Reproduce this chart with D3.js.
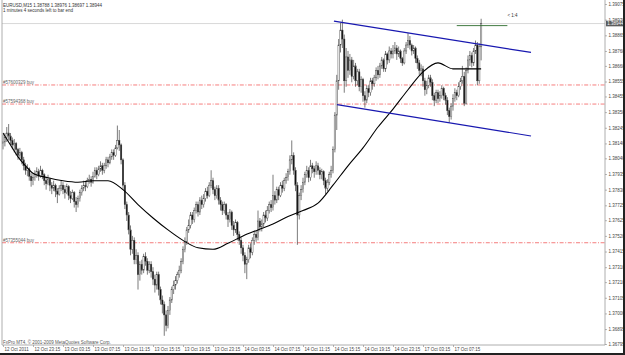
<!DOCTYPE html>
<html>
<head>
<meta charset="utf-8">
<script src="https://cdn.jsdelivr.net/npm/d3@7"></script>
<style>
html, body { margin: 0; padding: 0; background: #fff; }
svg { display: block; font-family: "Liberation Sans", Arial, sans-serif; }
</style>
</head>
<body>
<div id="chart"></div>
<script>
// EURUSD M15 - 12 Oct 19:15 .. 17 Oct 11:00 (256 bars), open = close of previous bar
const symbolTitle = "EURUSD,M15";
const timerText = "1 minutes 4 seconds left to bar end";
const copyrightText = "FxPro MT4, \u00a9 2001-2009 MetaQuotes Software Corp.";
const firstOpen = 1.3814;

const closes = [
  1.3815,1.3818,1.3821,1.3819,1.3816,1.3813,1.3814,1.3810,1.3806,1.3808,1.3803,1.3799,1.3796,1.3797,1.3792,1.3789,
  1.3791,1.3793,1.3795,1.3792,1.3796,1.3793,1.3789,1.3787,1.3790,1.3786,1.3784,1.3786,1.3782,1.3780,1.3784,1.3786,
  1.3783,1.3781,1.3785,1.3779,1.3777,1.3781,1.3775,1.3773,1.3777,1.3781,1.3784,1.3786,1.3785,1.3789,1.3790,1.3788,
  1.3792,1.3796,1.3793,1.3797,1.3799,1.3796,1.3799,1.3803,1.3801,1.3805,1.3808,1.3806,1.3811,1.3816,1.3813,1.3803,
  1.3786,1.3773,1.3766,1.3756,1.3743,1.3749,1.3736,1.3739,1.3726,1.3733,1.3729,1.3738,1.3735,1.3729,1.3733,1.3728,
  1.3723,1.3719,1.3726,1.3716,1.3709,1.3706,1.3699,1.3692,1.3702,1.3709,1.3716,1.3719,1.3722,1.3726,1.3729,1.3735,
  1.3743,1.3748,1.3756,1.3759,1.3766,1.3763,1.3769,1.3773,1.3768,1.3776,1.3773,1.3777,1.3782,1.3779,1.3786,1.3789,
  1.3783,1.3779,1.3784,1.3776,1.3773,1.3769,1.3773,1.3766,1.3763,1.3768,1.3759,1.3756,1.3761,1.3753,1.3749,1.3744,
  1.3739,1.3733,1.3736,1.3744,1.3741,1.3749,1.3753,1.3751,1.3762,1.3758,1.3760,1.3766,1.3764,1.3769,1.3773,1.3771,
  1.3779,1.3776,1.3783,1.3779,1.3786,1.3784,1.3789,1.3791,1.3795,1.3803,1.3806,1.3796,1.3786,1.3766,1.3779,1.3783,
  1.3788,1.3793,1.3796,1.3791,1.3799,1.3797,1.3795,1.3799,1.3796,1.3793,1.3795,1.3789,1.3784,1.3788,1.3793,1.3796,
  1.3810,1.3833,1.3856,1.3880,1.3890,1.3884,1.3856,1.3872,1.3863,1.3870,1.3859,1.3866,1.3856,1.3862,1.3852,1.3857,
  1.3846,1.3843,1.3851,1.3848,1.3856,1.3854,1.3858,1.3863,1.3860,1.3866,1.3870,1.3864,1.3874,1.3870,1.3876,1.3874,
  1.3876,1.3878,1.3874,1.3876,1.3871,1.3868,1.3876,1.3880,1.3883,1.3880,1.3876,1.3878,1.3871,1.3868,1.3863,1.3864,
  1.3856,1.3850,1.3853,1.3858,1.3855,1.3846,1.3843,1.3848,1.3844,1.3846,1.3851,1.3846,1.3843,1.3836,1.3832,1.3839,
  1.3844,1.3848,1.3846,1.3852,1.3856,1.3859,1.3841,1.3863,1.3870,1.3873,1.3868,1.3876,1.3880,1.3856,1.38788,1.38944
];
const highs = [
  1.3820,1.3821,1.3825,1.3827,1.3821,1.3818,1.3817,1.3815,1.3811,1.3811,1.3809,1.3805,1.3801,1.3800,1.3798,1.3794,
  1.3794,1.3796,1.3798,1.3797,1.3799,1.3797,1.3794,1.3791,1.3793,1.3791,1.3788,1.3789,1.3787,1.3784,1.3786,1.3789,
  1.3788,1.3786,1.3787,1.3786,1.3782,1.3783,1.3782,1.3778,1.3779,1.3783,1.3786,1.3789,1.3789,1.3791,1.3793,1.3792,
  1.3795,1.3798,1.3798,1.3799,1.3802,1.3801,1.3801,1.3805,1.3805,1.3807,1.3810,1.3810,1.3813,1.3826,1.3823,1.3814,
  1.3804,1.3788,1.3775,1.3768,1.3759,1.3752,1.3751,1.3743,1.3741,1.3735,1.3736,1.3740,1.3741,1.3737,1.3735,1.3735,
  1.3731,1.3726,1.3728,1.3728,1.3718,1.3712,1.3708,1.3702,1.3705,1.3711,1.3718,1.3722,1.3725,1.3728,1.3732,1.3737,
  1.3745,1.3751,1.3758,1.3763,1.3768,1.3768,1.3771,1.3775,1.3775,1.3778,1.3779,1.3780,1.3784,1.3785,1.3788,1.3796,
  1.3791,1.3785,1.3786,1.3786,1.3778,1.3775,1.3775,1.3774,1.3768,1.3770,1.3769,1.3762,1.3763,1.3762,1.3755,1.3751,
  1.3746,1.3741,1.3738,1.3746,1.3747,1.3751,1.3755,1.3756,1.3769,1.3764,1.3763,1.3768,1.3769,1.3772,1.3775,1.3776,
  1.3793,1.3782,1.3785,1.3785,1.3788,1.3789,1.3791,1.3794,1.3797,1.3806,1.3816,1.3808,1.3798,1.3788,1.3781,1.3786,
  1.3791,1.3795,1.3799,1.3798,1.3803,1.3801,1.3799,1.3802,1.3801,1.3798,1.3797,1.3796,1.3791,1.3790,1.3795,1.3799,
  1.3812,1.3835,1.3860,1.3884,1.3895,1.3897,1.3887,1.3878,1.3876,1.3874,1.3872,1.3870,1.3868,1.3864,1.3864,1.3859,
  1.3858,1.3849,1.3853,1.3853,1.3858,1.3858,1.3860,1.3865,1.3866,1.3868,1.3872,1.3871,1.3876,1.3875,1.3879,1.3878,
  1.3880,1.3882,1.3880,1.3879,1.3877,1.3872,1.3878,1.3882,1.3888,1.3886,1.3881,1.3880,1.3879,1.3873,1.3870,1.3867,
  1.3866,1.3858,1.3856,1.3860,1.3860,1.3857,1.3848,1.3850,1.3850,1.3849,1.3853,1.3852,1.3848,1.3845,1.3838,1.3841,
  1.3847,1.3851,1.3850,1.3855,1.3858,1.3866,1.3862,1.3865,1.3873,1.3876,1.3875,1.3878,1.3883,1.3882,1.3881,1.38976
];
const lows = [
  1.3810,1.3812,1.3815,1.3816,1.3813,1.3810,1.3808,1.3806,1.3803,1.3804,1.3800,1.3796,1.3793,1.3792,1.3789,1.3785,
  1.3786,1.3789,1.3791,1.3789,1.3791,1.3790,1.3786,1.3783,1.3786,1.3782,1.3780,1.3782,1.3778,1.3774,1.3779,1.3782,
  1.3780,1.3777,1.3780,1.3776,1.3774,1.3776,1.3771,1.3768,1.3771,1.3775,1.3779,1.3782,1.3782,1.3784,1.3787,1.3785,
  1.3787,1.3791,1.3790,1.3792,1.3795,1.3793,1.3794,1.3797,1.3798,1.3800,1.3803,1.3803,1.3805,1.3810,1.3809,1.3800,
  1.3783,1.3770,1.3762,1.3753,1.3739,1.3740,1.3733,1.3733,1.3716,1.3722,1.3726,1.3727,1.3732,1.3726,1.3727,1.3724,
  1.3719,1.3714,1.3716,1.3712,1.3706,1.3700,1.3685,1.3688,1.3690,1.3699,1.3707,1.3713,1.3716,1.3720,1.3724,1.3727,
  1.3733,1.3741,1.3746,1.3754,1.3757,1.3760,1.3761,1.3767,1.3765,1.3766,1.3770,1.3771,1.3775,1.3777,1.3778,1.3784,
  1.3780,1.3776,1.3777,1.3773,1.3769,1.3766,1.3767,1.3763,1.3758,1.3761,1.3756,1.3752,1.3754,1.3749,1.3746,1.3740,
  1.3735,1.3727,1.3723,1.3734,1.3737,1.3739,1.3746,1.3748,1.3749,1.3755,1.3755,1.3758,1.3761,1.3762,1.3767,1.3768,
  1.3769,1.3773,1.3774,1.3776,1.3778,1.3781,1.3782,1.3787,1.3789,1.3793,1.3800,1.3793,1.3782,1.3746,1.3763,1.3776,
  1.3781,1.3786,1.3791,1.3788,1.3789,1.3794,1.3791,1.3793,1.3793,1.3790,1.3790,1.3786,1.3780,1.3782,1.3786,1.3791,
  1.3794,1.3808,1.3823,1.3850,1.3875,1.3878,1.3848,1.3852,1.3858,1.3860,1.3855,1.3857,1.3852,1.3853,1.3849,1.3848,
  1.3842,1.3838,1.3841,1.3845,1.3846,1.3850,1.3852,1.3856,1.3857,1.3858,1.3864,1.3862,1.3862,1.3867,1.3868,1.3871,
  1.3871,1.3874,1.3870,1.3872,1.3868,1.3866,1.3867,1.3874,1.3878,1.3877,1.3873,1.3874,1.3868,1.3864,1.3860,1.3859,
  1.3852,1.3846,1.3847,1.3851,1.3852,1.3843,1.3839,1.3841,1.3841,1.3842,1.3844,1.3843,1.3840,1.3833,1.3828,1.3830,
  1.3836,1.3842,1.3843,1.3845,1.3850,1.3854,1.3839,1.3840,1.3861,1.3866,1.3865,1.3866,1.3874,1.3853,1.3854,1.38697
];

// moving average (bar index -> value)
const maBars   = [0,4,8,12,16,24,32,40,48,56,64,72,80,88,96,104,112,120,128,136,144,152,160,168,176,184,192,200,208,216,224,232,240,248,255];
const maValues = [1.3821,1.3813,1.3805,1.3799,1.3794,1.3791,1.3789,1.3788,1.3789,1.3789,1.3783,1.3773,1.3764,1.3756,1.3749,1.3744,
                  1.3743,1.3747,1.3752,1.3756,1.3760,1.3765,1.3769,1.3774,1.3786,1.3799,1.3811,1.3825,1.3837,1.3850,1.3862,1.3868,
                  1.3864,1.3864,1.3864];

// hand-drawn channel (bar index, price)
const channelUpper = [[176.5, 1.3896], [281.6, 1.3875]];
const channelLower = [[178.1, 1.3840], [281.6, 1.3819]];
const rewardLine = [242, 269];
const rewardPrice = 1.3893;
const rewardText = "< 1:4";

// open orders
const orderLabels = ["#57600329 buy", "#57594368 buy", "#57355044 buy"];
const orderPrices = [1.38532, 1.38404, 1.37474];

// axes
const priceTicks = [1.39075,1.38970,1.38865,1.38760,1.38660,1.38555,1.38455,1.38350,1.38245,1.38140,1.38040,1.37935,
                    1.37830,1.37725,1.37625,1.37520,1.37415,1.37310,1.37210,1.37105,1.37000,1.36895,1.36795];
const dateBars = [0,16,32,48,64,80,96,112,128,144,160,176,192,208,224,240];
const dateLabels = ["12 Oct 2011","12 Oct 23:15","13 Oct 03:15","13 Oct 07:15","13 Oct 11:15","13 Oct 15:15",
                    "13 Oct 19:15","13 Oct 23:15","14 Oct 03:15","14 Oct 07:15","14 Oct 11:15","14 Oct 15:15",
                    "14 Oct 19:15","14 Oct 23:15","17 Oct 03:15","17 Oct 07:15"];

const W = 625, H = 355;
const frame = { left: 2, right: 605, top: 0, bottom: 345 };
const fs = 4.5;

const bars = closes.map((c, i) => ({
    i: i,
    open: i === 0 ? firstOpen : closes[i - 1],
    high: highs[i],
    low: lows[i],
    close: c
}));
const last = bars[bars.length - 1];

const svg = d3.select("#chart").append("svg")
    .attr("width", W)
    .attr("height", H);

const x = d3.scaleLinear().domain([0, 320]).range([3, 603]);
const y = d3.scaleLinear().domain([1.36795, 1.39075]).range([344, 4]);

// bid line
svg.append("line")
    .attr("x1", frame.left).attr("x2", frame.right)
    .attr("y1", y(last.close)).attr("y2", y(last.close))
    .attr("stroke", "#cfcfcf").attr("stroke-width", 0.8);

// order levels
orderPrices.forEach((p, k) => {
    svg.append("line")
        .attr("x1", frame.left).attr("x2", frame.right)
        .attr("y1", y(p)).attr("y2", y(p))
        .attr("stroke", "#f25c5c").attr("stroke-width", 0.8)
        .attr("stroke-dasharray", "4,1.6,1,1.6");
    svg.append("text")
        .attr("x", 3).attr("y", y(p) - 1.2)
        .attr("font-size", fs).attr("fill", "#666")
        .text(orderLabels[k]);
});

// candles
const candles = svg.append("g");
candles.selectAll(".wick")
    .data(bars)
    .enter()
    .append("line")
    .attr("class", "wick")
    .attr("x1", d => x(d.i)).attr("x2", d => x(d.i))
    .attr("y1", d => y(Math.max(d.high, d.open, d.close)))
    .attr("y2", d => y(Math.min(d.low, d.open, d.close)))
    .attr("stroke", "#444").attr("stroke-width", 0.7);

candles.selectAll(".body")
    .data(bars)
    .enter()
    .append("rect")
    .attr("class", "body")
    .attr("x", d => x(d.i) - 0.7)
    .attr("width", 1.4)
    .attr("y", d => y(Math.max(d.open, d.close)))
    .attr("height", d => Math.max(0.5, y(Math.min(d.open, d.close)) - y(Math.max(d.open, d.close))))
    .attr("fill", d => d.close < d.open ? "#111" : "#fff")
    .attr("stroke", "#444").attr("stroke-width", 0.45);

// moving average
const maLine = d3.line()
    .x(d => x(d[0]))
    .y(d => y(d[1]))
    .curve(d3.curveMonotoneX);
svg.append("path")
    .datum(maBars.map((b, k) => [b, maValues[k]]))
    .attr("d", maLine)
    .attr("fill", "none")
    .attr("stroke", "#000")
    .attr("stroke-width", 1.1);

// channel
[channelUpper, channelLower].forEach(seg => {
    svg.append("line")
        .attr("x1", x(seg[0][0])).attr("y1", y(seg[0][1]))
        .attr("x2", x(seg[1][0])).attr("y2", y(seg[1][1]))
        .attr("stroke", "#1818b0").attr("stroke-width", 1.2);
});

// reward level
svg.append("line")
    .attr("x1", x(rewardLine[0])).attr("x2", x(rewardLine[1]))
    .attr("y1", y(rewardPrice)).attr("y2", y(rewardPrice))
    .attr("stroke", "#2b6b2b").attr("stroke-width", 0.9);
svg.append("text")
    .attr("x", x(rewardLine[1])).attr("y", y(rewardPrice) - 9)
    .attr("font-size", fs).attr("fill", "#333")
    .text(rewardText);

// header
svg.append("text")
    .attr("x", 3).attr("y", 6.5)
    .attr("font-size", fs).attr("fill", "#333")
    .text(`${symbolTitle}  ${last.open.toFixed(5)} ${last.high.toFixed(5)} ${last.low.toFixed(5)} ${last.close.toFixed(5)}`);
svg.append("text")
    .attr("x", 3).attr("y", 11.5)
    .attr("font-size", fs).attr("fill", "#333")
    .text(timerText);

// footer
svg.append("text")
    .attr("x", 3).attr("y", 343.5)
    .attr("font-size", fs).attr("fill", "#555")
    .text(copyrightText);

// frame
svg.append("line").attr("x1", frame.left).attr("x2", frame.left)
    .attr("y1", frame.top).attr("y2", frame.bottom)
    .attr("stroke", "#9a9a9a").attr("stroke-width", 0.8);
svg.append("line").attr("x1", frame.left).attr("x2", frame.right)
    .attr("y1", frame.bottom).attr("y2", frame.bottom)
    .attr("stroke", "#9a9a9a").attr("stroke-width", 0.8);
svg.append("line").attr("x1", frame.right).attr("x2", frame.right)
    .attr("y1", frame.top).attr("y2", frame.bottom)
    .attr("stroke", "#9a9a9a").attr("stroke-width", 0.8);

// price axis
const yAxis = svg.append("g")
    .attr("transform", `translate(${frame.right},0)`)
    .call(d3.axisRight(y).tickValues(priceTicks).tickSize(2).tickPadding(1.5).tickFormat(d3.format(".5f")));
yAxis.select(".domain").remove();
yAxis.selectAll("line").attr("stroke", "#888").attr("stroke-width", 0.6);
yAxis.selectAll("text").attr("font-size", fs).attr("fill", "#444").attr("font-family", "Liberation Sans, Arial, sans-serif");

// time axis
const xAxis = svg.append("g")
    .attr("transform", `translate(0,${frame.bottom})`)
    .call(d3.axisBottom(x).tickValues(dateBars).tickSize(2).tickFormat((d, k) => dateLabels[k]));
xAxis.select(".domain").remove();
xAxis.selectAll("line").attr("stroke", "#888").attr("stroke-width", 0.6);
xAxis.selectAll("text")
    .attr("text-anchor", "start")
    .attr("dx", 1)
    .attr("dy", "0.2em")
    .attr("font-size", fs).attr("fill", "#444").attr("font-family", "Liberation Sans, Arial, sans-serif");

// current price box
const by = y(last.close);
svg.append("rect")
    .attr("x", frame.right + 1).attr("y", by - 2.8)
    .attr("width", 17).attr("height", 5.6)
    .attr("fill", "#5c5c5c");
svg.append("text")
    .attr("x", frame.right + 2.2).attr("y", by + 1.6)
    .attr("font-size", fs).attr("fill", "#fff")
    .text(last.close.toFixed(5));

// window border
svg.append("rect").attr("x", 623).attr("y", 0).attr("width", 2).attr("height", H).attr("fill", "#222");
svg.append("rect").attr("x", 0).attr("y", 353).attr("width", W).attr("height", 2).attr("fill", "#222");
</script>
</body>
</html>
